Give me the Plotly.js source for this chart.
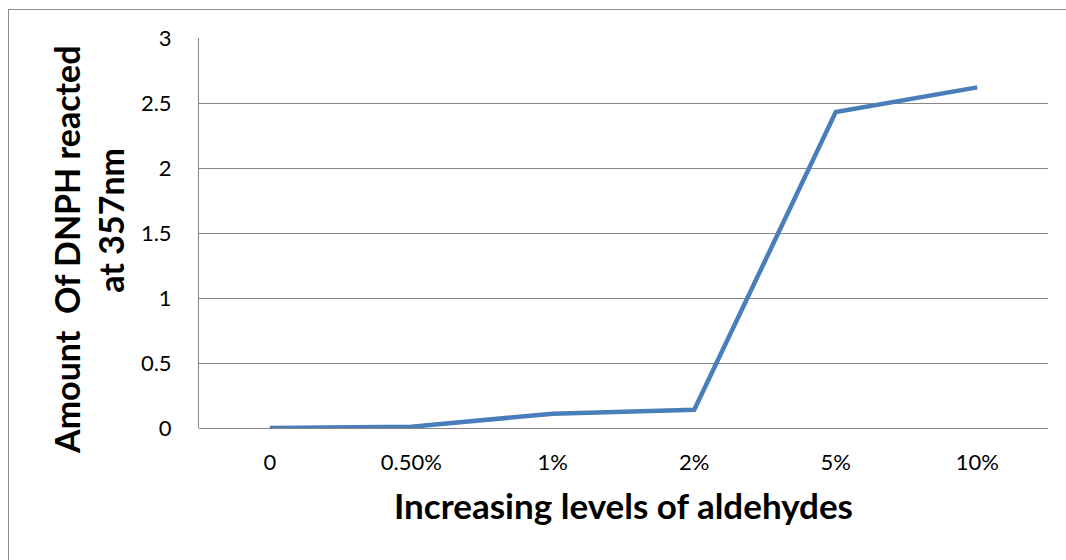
<!DOCTYPE html>
<html>
<head>
<meta charset="utf-8">
<script src="https://cdn.plot.ly/plotly-3.0.1.min.js"></script>
<style>
  html, body { margin: 0; padding: 0; background: #fff; }
  #frame { position: absolute; left: 8px; top: 9px; width: 1066px; height: 560px; border-left: 1px solid #8c8c8c; border-top: 1px solid #8c8c8c; }
  #chart { position: absolute; left: 0; top: 0; width: 1066px; height: 560px; }
</style>
</head>
<body>
<div id="frame"></div>
<div id="chart"></div>
<script>
const categories = ["0", "0.50%", "1%", "2%", "5%", "10%"];
const amounts = [0, 0.01, 0.11, 0.14, 2.43, 2.62];
const yTicks = [0, 0.5, 1, 1.5, 2, 2.5, 3];
const yTickLabels = ["0", "0.5", "1", "1.5", "2", "2.5", "3"];
const xTitle = "Increasing levels of aldehydes";
const yTitleLines = ["Amount  Of DNPH reacted", "\u00a0\u00a0\u00a0\u00a0\u00a0\u00a0\u00a0at 357nm"];

const trace = {
  x: categories,
  y: amounts,
  type: "scatter",
  mode: "lines",
  line: { color: "#4a7ebb", width: 4.5 },
  hoverinfo: "skip"
};

const layout = {
  width: 1066,
  height: 560,
  paper_bgcolor: "rgba(0,0,0,0)",
  plot_bgcolor: "rgba(0,0,0,0)",
  margin: { l: 199, r: 18, t: 38, b: 132 },
  showlegend: false,
  font: { family: "Lato, 'Liberation Sans', sans-serif", color: "#000" },
  xaxis: {
    type: "category",
    range: [-0.5, categories.length - 0.5],
    tickvals: categories,
    ticktext: categories,
    showgrid: false,
    zeroline: false,
    showline: false,
    ticks: "",
    ticklabelstandoff: 19,
    tickfont: { size: 22, family: "Lato, sans-serif", color: "#000" },
    title: { text: "<b>" + xTitle + "</b>", font: { size: 35, family: "Lato, sans-serif", color: "#000" }, standoff: 20 }
  },
  yaxis: {
    range: [0, 3],
    tickvals: yTicks,
    ticktext: yTickLabels,
    showgrid: true,
    gridcolor: "#868686",
    gridwidth: 1,
    zeroline: true,
    zerolinecolor: "#868686",
    zerolinewidth: 1,
    showline: true,
    linecolor: "#868686",
    linewidth: 1,
    ticks: "",
    ticklabelstandoff: 22,
    tickfont: { size: 22, family: "Lato, sans-serif", color: "#000" }
  },
  annotations: [{
    text: "<b>" + yTitleLines.join("<br>") + "</b>",
    xref: "paper", yref: "paper",
    x: -0.131, y: 0.456,
    xanchor: "center", yanchor: "middle",
    textangle: -90,
    showarrow: false,
    align: "center",
    font: { size: 34, family: "Lato, sans-serif", color: "#000" }
  }]
};

Plotly.newPlot("chart", [trace], layout, { displayModeBar: false, staticPlot: true });
</script>
</body>
</html>
